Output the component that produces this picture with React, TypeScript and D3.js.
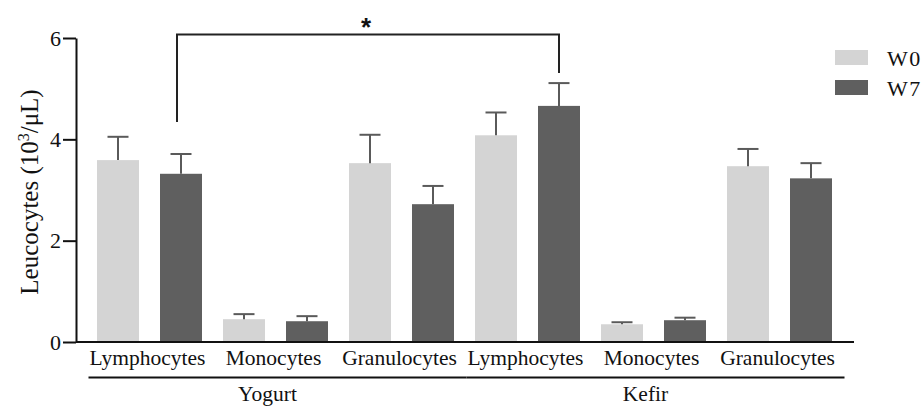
import React, { useEffect, useRef } from "react";
import * as d3 from "d3";

// groups along the x axis and the cell types inside each group
const groups = ["Yogurt", "Kefir"];
const cellTypes = ["Lymphocytes", "Monocytes", "Granulocytes"];
const weeks = ["W0", "W7"];

// means and SEM, order: Yogurt (L, M, G), Kefir (L, M, G)
const w0Mean = [3.59, 0.45, 3.53, 4.08, 0.35, 3.47];
const w0Sem = [0.46, 0.1, 0.56, 0.45, 0.04, 0.34];
const w7Mean = [3.32, 0.41, 2.72, 4.66, 0.43, 3.23];
const w7Sem = [0.39, 0.1, 0.36, 0.45, 0.05, 0.3];

const yTicks = [0, 2, 4, 6];

// significance bracket: from cluster 0 (W7) to cluster 3 (W7)
const bracket = { from: 0, to: 3, top: 6.07, leftEnd: 4.34, rightEnd: 5.31, label: "*" };

const colors = { W0: "#d4d4d4", W7: "#5f5f5f" };
const font = "'Liberation Serif', 'Times New Roman', serif";

const width = 924;
const height = 408;

export default function App() {
  const yAxisRef = useRef<SVGGElement>(null);

  const clusters = groups.flatMap((g) => cellTypes.map((c) => `${g}-${c}`));

  const x0 = d3
    .scaleBand()
    .domain(clusters)
    .range([76, 853])
    .paddingInner(0)
    .paddingOuter(1 / 12);

  const x1 = d3
    .scaleBand()
    .domain(weeks)
    .range([0, x0.bandwidth()])
    .paddingInner(1 / 3)
    .paddingOuter(1 / 6);

  const y = d3.scaleLinear().domain([0, 6]).range([342, 38]);

  const bars = clusters.flatMap((c, i) => [
    { cluster: c, week: "W0", mean: w0Mean[i], sem: w0Sem[i] },
    { cluster: c, week: "W7", mean: w7Mean[i], sem: w7Sem[i] },
  ]);

  useEffect(() => {
    if (!yAxisRef.current) return;
    const g = d3.select(yAxisRef.current);
    g.selectAll("*").remove();
    g.call(
      d3
        .axisLeft(y)
        .tickValues(yTicks)
        .tickSize(13)
        .tickSizeOuter(0)
        .tickPadding(2)
        .tickFormat(d3.format("d"))
    );
    g.select(".domain").attr("stroke", "#111").attr("stroke-width", 2);
    g.selectAll(".tick line").attr("stroke", "#111").attr("stroke-width", 2);
    g.selectAll(".tick text")
      .attr("font-family", font)
      .attr("font-size", 22)
      .attr("fill", "#111");
  }, []);

  const cx = (c: string, w: string) => (x0(c) ?? 0) + (x1(w) ?? 0) + x1.bandwidth() / 2;

  const bx1 = cx(clusters[bracket.from], "W7");
  const bx2 = cx(clusters[bracket.to], "W7");

  return (
    <svg
      width={width}
      height={height}
      style={{ position: "absolute", left: 0, top: 0, background: "#fff" }}
    >
      {/* bars */}
      {bars.map((b, i) => (
        <rect
          key={i}
          x={(x0(b.cluster) ?? 0) + (x1(b.week) ?? 0)}
          y={y(b.mean)}
          width={x1.bandwidth()}
          height={y(0) - y(b.mean)}
          fill={colors[b.week as "W0" | "W7"]}
        />
      ))}

      {/* error bars (upper only) */}
      {bars.map((b, i) => {
        const c = cx(b.cluster, b.week);
        const top = y(b.mean + b.sem);
        return (
          <g key={i} stroke="#5a5a5a" strokeWidth={2}>
            <line x1={c} x2={c} y1={y(b.mean)} y2={top} />
            <line x1={c - 10.5} x2={c + 10.5} y1={top} y2={top} />
          </g>
        );
      })}

      {/* x axis line */}
      <line x1={76} x2={854} y1={y(0)} y2={y(0)} stroke="#111" strokeWidth={2} />

      {/* y axis */}
      <g ref={yAxisRef} transform="translate(76,0)" />

      {/* y label */}
      <text
        transform={`translate(38,${(y(0) + y(6)) / 2 + 2}) rotate(-90)`}
        textAnchor="middle"
        fontFamily={font}
        fontSize={25}
        fill="#111"
      >
        Leucocytes (10
        <tspan fontSize={16} dy={-9}>
          3
        </tspan>
        <tspan dy={9}>/μL)</tspan>
      </text>

      {/* cell type labels */}
      {clusters.map((c, i) => (
        <text
          key={c}
          x={(x0(c) ?? 0) + x0.bandwidth() / 2 - 2}
          y={365}
          textAnchor="middle"
          fontFamily={font}
          fontSize={21.5}
          fill="#111"
        >
          {cellTypes[i % cellTypes.length]}
        </text>
      ))}

      {/* group lines and labels */}
      {groups.map((g) => {
        const xa = (x0(`${g}-${cellTypes[0]}`) ?? 0) + 2;
        const xb = (x0(`${g}-${cellTypes[cellTypes.length - 1]}`) ?? 0) + x0.bandwidth() + 2;
        return (
          <g key={g}>
            <line x1={xa} x2={xb} y1={377.5} y2={377.5} stroke="#111" strokeWidth={2} />
            <text
              x={(xa + xb) / 2 - 10}
              y={401}
              textAnchor="middle"
              fontFamily={font}
              fontSize={21.5}
              fill="#111"
            >
              {g}
            </text>
          </g>
        );
      })}

      {/* significance bracket */}
      <path
        d={`M${bx1 - 4},${y(bracket.leftEnd)}V${y(bracket.top)}H${bx2}V${y(bracket.rightEnd)}`}
        fill="none"
        stroke="#222"
        strokeWidth={2}
      />
      <text
        x={(bx1 + bx2) / 2 - 4}
        y={36}
        textAnchor="middle"
        fontFamily="'Liberation Sans', Arial, sans-serif"
        fontWeight="bold"
        fontSize={26}
        fill="#111"
      >
        {bracket.label}
      </text>

      {/* legend */}
      {weeks.map((w, i) => (
        <g key={w} transform={`translate(835,${50 + i * 30})`}>
          <rect width={33} height={15} fill={colors[w as "W0" | "W7"]} />
          <text
            x={52}
            y={16}
            fontFamily={font}
            fontSize={22}
            letterSpacing={1.5}
            fill="#111"
          >
            {w}
          </text>
        </g>
      ))}
    </svg>
  );
}
